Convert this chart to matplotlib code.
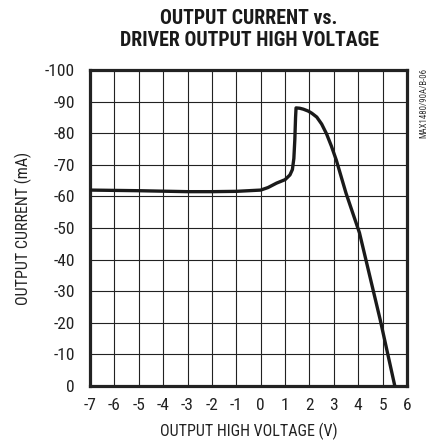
import matplotlib
matplotlib.use('Agg')
import matplotlib.pyplot as plt

plt.rcParams['font.family'] = ['Roboto Condensed', 'DejaVu Sans']

# output high voltage (V) vs output current (mA)
voltage = [-7, -5, -3, -2, -1, 0, 0.3, 0.65, 1.0, 1.2, 1.3, 1.36, 1.4, 1.43, 1.45,
           1.6, 1.75, 1.95, 2.1, 2.3, 2.5, 2.7, 2.9, 3.1, 3.5, 4.05, 4.9, 5.5]
current = [-62, -61.8, -61.5, -61.5, -61.6, -62, -62.8, -64.2, -65.3, -66.8, -68.5, -72, -78, -85, -88,
           -87.9, -87.6, -87, -86.3, -85.1, -82.9, -79.8, -75.9, -71.5, -61, -48.5, -21, 0]
x_ticks = list(range(-7, 7))
y_ticks = list(range(0, -101, -10))

fig = plt.figure(figsize=(4.29, 4.43), dpi=100)
ax = fig.add_axes([90 / 429, 1 - 386 / 443, 317 / 429, 316 / 443])

ax.plot(voltage, current, color='#1a1a1a', lw=2.4, solid_joinstyle='round', zorder=3)

ax.set_xlim(-7, 6)
ax.set_ylim(0, -100)
ax.set_xticks(x_ticks)
ax.set_yticks(y_ticks)
ax.set_xticklabels([str(v) for v in x_ticks])
ax.set_yticklabels([str(v) for v in y_ticks])
ax.tick_params(length=0, labelsize=12.5, colors='#222222')
ax.tick_params(axis='x', pad=9)
ax.tick_params(axis='y', pad=11)
ax.grid(True, color='#222222', lw=0.8)
for s in ax.spines.values():
    s.set_linewidth(2.3)
    s.set_color('#222222')

ax.set_xlabel('OUTPUT HIGH VOLTAGE (V)', fontsize=11.5, color='#222222', labelpad=7)
ax.set_ylabel('OUTPUT CURRENT (mA)', fontsize=11.5, color='#222222', labelpad=9)

fig.text(249 / 429, 1 - 30 / 443, 'OUTPUT CURRENT vs.\nDRIVER OUTPUT HIGH VOLTAGE',
         ha='center', va='center', fontsize=14.3, fontweight='bold', color='#1a1a1a',
         linespacing=1.2)
fig.text(424 / 429, 1 - 68 / 443, 'MAX1480/90A/B-06', rotation=90, ha='center', va='top',
         fontsize=6.3, color='#333333')

fig.savefig('out.png', dpi=100)
